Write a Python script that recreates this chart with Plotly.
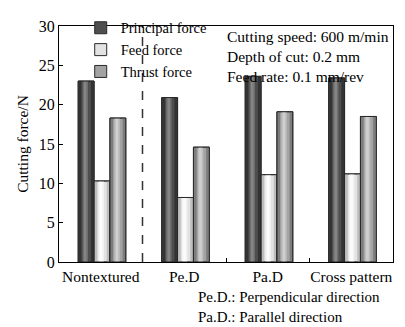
import plotly.graph_objects as go

categories = ["Nontextured", "Pe.D", "Pa.D", "Cross pattern"]
principal = [23.0, 20.9, 23.6, 23.4]
feed = [10.3, 8.2, 11.1, 11.2]
thrust = [18.3, 14.6, 19.1, 18.5]

# (base colour, edge shade, highlight 1, highlight 2)
series = [
    ("Principal force", principal, "#4e4e4e", "#333333", "#6e6e6e", "#858585"),
    ("Feed force", feed, "#e2e2e2", "#bdbdbd", "#f2f2f2", "#fcfcfc"),
    ("Thrust force", thrust, "#a3a3a3", "#7c7c7c", "#bdbdbd", "#cfcfcf"),
]

W = 0.19
start = -0.27
# layers: (offset fraction within bar, width fraction, which colour)
layers = [(0.04, 0.16, 1), (0.80, 0.16, 1), (0.28, 0.34, 2), (0.36, 0.16, 3)]

fig = go.Figure()
for i, (name, vals, base, edge, h1, h2) in enumerate(series):
    off0 = start + i * W
    cols = [base, edge, h1, h2]
    fig.add_trace(go.Bar(
        x=categories, y=vals, name=name, width=W, offset=off0,
        marker=dict(color=base, line=dict(color="#2a2a2a", width=1)),
        legendgroup=name,
    ))
    for fo, fw, ci in layers:
        fig.add_trace(go.Bar(
            x=categories, y=vals, name=name, width=W * fw, offset=off0 + W * fo,
            marker=dict(color=cols[ci], line=dict(width=0)),
            showlegend=False, legendgroup=name, hoverinfo="skip",
        ))
    fig.add_trace(go.Bar(
        x=categories, y=vals, name=name, width=W, offset=off0,
        marker=dict(color="rgba(0,0,0,0)", line=dict(color="#2a2a2a", width=1)),
        showlegend=False, legendgroup=name, hoverinfo="skip",
    ))

font = "Liberation Serif, Times New Roman, serif"
fig.update_layout(
    width=405, height=327,
    margin=dict(l=59, r=12, t=14, b=65),
    barmode="overlay",
    plot_bgcolor="white", paper_bgcolor="white",
    font=dict(family=font, size=15, color="black"),
    legend=dict(x=0.065, y=1.06, xanchor="left", yanchor="top",
                bgcolor="rgba(0,0,0,0)", font=dict(size=14.5), tracegroupgap=0),
    xaxis=dict(showline=True, linecolor="black", linewidth=1, mirror=True,
               ticks="inside", tickson="boundaries", ticklen=4, tickcolor="black",
               range=[-0.5, 3.5], tickfont=dict(size=15.5), tickangle=0),
    yaxis=dict(showline=True, linecolor="black", linewidth=1, mirror=True,
               ticks="inside", ticklen=4, tickcolor="black", range=[0, 30], dtick=5,
               showgrid=False, zeroline=False, tickfont=dict(size=16),
               title=dict(text="Cutting force/N", font=dict(size=15.5), standoff=6)),
    shapes=[dict(type="line", xref="x", yref="paper", x0=0.5, x1=0.5, y0=0, y1=1,
                 line=dict(color="#333", width=1.5, dash="dash"))],
    annotations=[
        dict(xref="paper", yref="paper", x=0.497, y=1.0, xanchor="left", yanchor="top",
             align="left", showarrow=False, font=dict(size=15.5),
             text="Cutting speed: 600 m/min<br>Depth of cut: 0.2 mm<br>Feed rate: 0.1 mm/rev"),
        dict(xref="paper", yref="paper", x=0.41, y=-0.105, xanchor="left", yanchor="top",
             align="left", showarrow=False, font=dict(size=15),
             text="Pe.D.: Perpendicular direction<br>Pa.D.: Parallel direction"),
    ],
)
fig.write_html("out.html")
